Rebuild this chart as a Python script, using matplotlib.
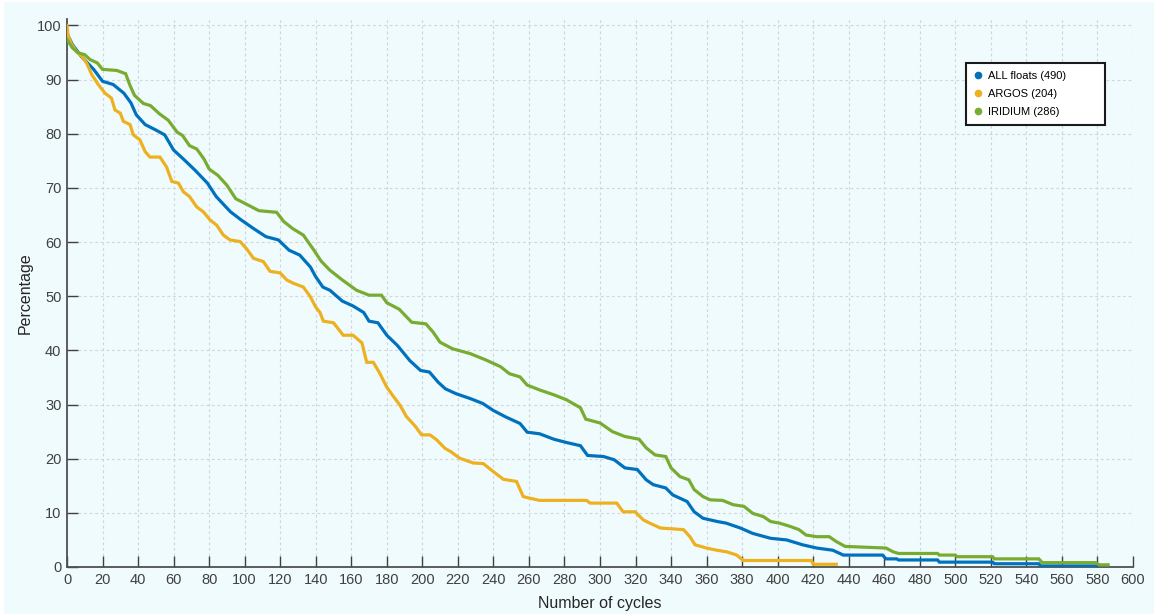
import matplotlib
matplotlib.use("Agg")
import matplotlib.pyplot as plt
from matplotlib.lines import Line2D
from matplotlib.patches import Rectangle

plt.rcParams['font.family'] = ['Liberation Sans', 'DejaVu Sans']

# ---- data ----
all_cycles = [0, 3, 8, 15, 20, 26, 32, 36, 39, 44, 50, 55, 60, 65, 72, 79, 84, 92, 98, 105,
              112, 119, 125, 131, 137, 140, 144, 148, 155, 161, 167, 170, 175, 180, 186, 193,
              199, 204, 209, 213, 219, 227, 234, 240, 247, 255, 259, 266, 274, 281, 289, 293,
              302, 308, 314, 321, 326, 330, 337, 341, 349, 353, 358, 366, 371, 379, 386, 396,
              405, 414, 422, 431, 437, 459, 461, 467, 468, 490, 491, 521, 522, 547, 548, 580]
all_pct = [98.5, 96.5, 94.3, 91.9, 89.7, 89.1, 87.5, 85.7, 83.5, 81.7, 80.7, 79.8, 77.0, 75.5,
           73.3, 70.9, 68.4, 65.6, 64.1, 62.5, 61.0, 60.4, 58.5, 57.6, 55.4, 53.6, 51.7, 51.1,
           49.1, 48.2, 47.0, 45.4, 45.1, 42.8, 40.9, 38.1, 36.3, 36.0, 34.1, 32.9, 32.0, 31.1,
           30.2, 28.9, 27.7, 26.5, 24.9, 24.6, 23.6, 23.0, 22.4, 20.6, 20.4, 19.8, 18.3, 18.0,
           16.1, 15.2, 14.6, 13.3, 12.1, 10.2, 9.0, 8.4, 8.1, 7.2, 6.2, 5.3, 5.0, 4.1, 3.5, 3.1,
           2.2, 2.2, 1.5, 1.5, 1.3, 1.3, 0.9, 0.9, 0.6, 0.6, 0.2, 0.2]

argos_cycles = [0, 0.7, 2.6, 5.4, 8.3, 11, 14, 17.6, 21.4, 25, 27, 30, 31.7, 35.5, 37.3, 41, 44,
                46.7, 52.3, 56, 59, 62.7, 65.5, 69, 73, 76.7, 80.5, 84.3, 88, 91.7, 97.4, 101,
                105, 110.5, 114.3, 120, 123.7, 127.4, 133, 136.8, 140, 142.4, 144.3, 150, 155.5,
                161, 166, 168.7, 172.4, 176, 180, 183.7, 187.4, 191, 196, 199.6, 204.3, 208,
                212.8, 216, 221, 228.7, 234.3, 240, 245.6, 253, 256.8, 260.6, 266, 292.5, 294.4,
                309.4, 313, 319.7, 324.4, 328, 334, 347, 350.6, 353.5, 360, 365.7, 371.3, 377,
                380.6, 419, 420, 433]
argos_pct = [100, 98.0, 96.5, 95.2, 94.3, 93.1, 90.9, 89.1, 87.5, 86.6, 84.4, 83.8, 82.3, 81.7,
             79.8, 78.9, 76.7, 75.7, 75.7, 73.9, 71.2, 70.9, 69.3, 68.4, 66.5, 65.6, 64.1, 63.1,
             61.3, 60.4, 60.1, 58.8, 57.0, 56.4, 54.6, 54.3, 53.0, 52.4, 51.7, 50.0, 48.0, 47.0,
             45.4, 45.1, 42.8, 42.8, 41.4, 37.8, 37.8, 35.8, 33.2, 31.5, 29.9, 27.8, 26.0, 24.4,
             24.4, 23.5, 21.9, 21.3, 20.1, 19.2, 19.1, 17.6, 16.2, 15.8, 13.0, 12.7, 12.3, 12.3,
             11.8, 11.8, 10.2, 10.2, 8.7, 8.1, 7.2, 6.9, 5.6, 4.1, 3.5, 3.1, 2.8, 2.2, 1.2, 1.2,
             0.5, 0.5]

iridium_cycles = [0, 3, 6, 10, 13, 17, 20, 28, 33, 35.5, 38, 43, 47, 52, 57, 62, 65, 69, 73, 77,
                  80, 85, 90, 95, 101, 108, 118, 122, 127, 133, 139, 143, 148, 155, 163, 170, 177,
                  180, 187, 194, 202, 206, 210, 217, 227, 236, 244, 249, 255, 259, 266, 274, 281,
                  289, 292, 300, 307, 314, 322, 326, 331, 337, 340, 345, 350, 353, 358, 362, 369,
                  375, 381, 386, 392, 396, 401, 407, 412, 416, 422, 429, 433, 438, 461, 465, 468,
                  490, 491, 500, 501, 521, 522, 547, 549, 579, 581, 586]
iridium_pct = [97.4, 95.9, 95.0, 94.6, 93.7, 93.1, 91.9, 91.7, 91.1, 88.9, 87.1, 85.6, 85.2, 83.7,
               82.5, 80.3, 79.7, 77.8, 77.2, 75.4, 73.5, 72.3, 70.5, 68.0, 67.0, 65.8, 65.5, 63.8,
               62.5, 61.3, 58.5, 56.5, 54.8, 53.0, 51.1, 50.2, 50.2, 48.8, 47.6, 45.2, 44.9, 43.4,
               41.5, 40.3, 39.4, 38.2, 37.0, 35.7, 35.1, 33.6, 32.7, 31.8, 30.9, 29.4, 27.3, 26.6,
               25.0, 24.1, 23.6, 22.0, 20.7, 20.4, 18.3, 16.7, 16.1, 14.3, 13.0, 12.4, 12.3, 11.5,
               11.2, 9.9, 9.3, 8.4, 8.1, 7.5, 6.9, 5.9, 5.6, 5.6, 4.7, 3.8, 3.5, 2.8, 2.5, 2.5,
               2.2, 2.2, 1.9, 1.9, 1.5, 1.5, 0.8, 0.8, 0.4, 0.4]

series_labels = ['ALL floats (490)', 'ARGOS (204)', 'IRIDIUM (286)']
series_colors = ['#0072BD', '#EDB120', '#77AC30']

x_ticks = list(range(0, 601, 20))
y_ticks = list(range(0, 101, 10))

# ---- figure ----
W, H = 1158, 616
fig = plt.figure(figsize=(W / 100, H / 100), dpi=100, facecolor='white')
bg = '#F0FBFE'
fig.patches.append(Rectangle((4 / W, 2 / H), 1 - 8 / W, 1 - 4 / H, transform=fig.transFigure,
                             facecolor=bg, edgecolor='none', zorder=-10))

ax = fig.add_axes([67 / W, 49 / H, (1133 - 67) / W, (567 - 19) / H])
ax.set_facecolor(bg)

for xs, ys, c in zip([all_cycles, argos_cycles, iridium_cycles],
                     [all_pct, argos_pct, iridium_pct], series_colors):
    ax.plot(xs, ys, color=c, lw=2.3, solid_joinstyle='miter', zorder=3)

ax.set_xlim(0, 600)
ax.set_ylim(0, 101.2)
ax.set_xticks(x_ticks)
ax.set_yticks(y_ticks)
ax.grid(True, color='#d2d6d8', lw=0.8, linestyle=(0, (2.5, 2.5)))
ax.set_axisbelow(True)

for s in ['top', 'right']:
    ax.spines[s].set_visible(False)
for s in ['left', 'bottom']:
    ax.spines[s].set_color('#505050')
    ax.spines[s].set_linewidth(1.3)

ax.tick_params(direction='in', length=7.7, width=1.0, color='#404040',
               labelcolor='#404040', labelsize=10.5, pad=4)

ax.set_xlabel('Number of cycles', fontsize=11.5, color='#262626', labelpad=7)
ax.set_ylabel('Percentage', fontsize=11.5, color='#262626', labelpad=3)

handles = [Line2D([], [], marker='o', linestyle='none', color=c, markersize=4.5)
           for c in series_colors]
leg = ax.legend(handles, series_labels, loc='upper left', mode='expand',
                bbox_to_anchor=(966 / W, 1 - 124 / H, 139 / W, 61 / H),
                bbox_transform=fig.transFigure,
                borderaxespad=0, fontsize=8, frameon=True, fancybox=False,
                handlelength=0.6, handletextpad=0.6, borderpad=0.75, labelspacing=0.7)
leg.get_frame().set_edgecolor('#1a1a1a')
leg.get_frame().set_linewidth(1.5)
leg.get_frame().set_facecolor('white')
leg.get_frame().set_alpha(1)

fig.savefig('out.png', dpi=100, facecolor=fig.get_facecolor())
